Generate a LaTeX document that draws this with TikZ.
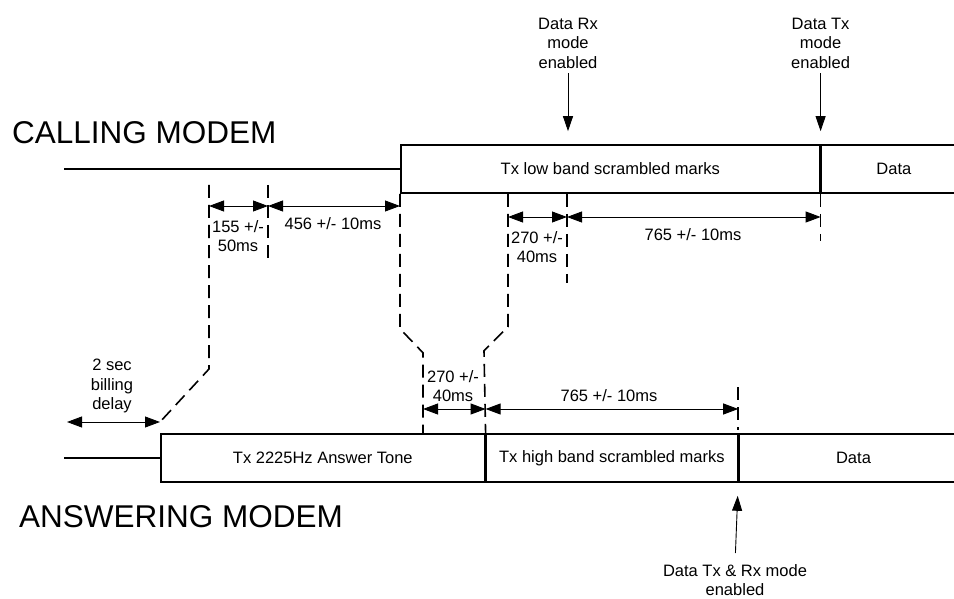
\documentclass[tikz,border=0pt]{standalone}
\usepackage{fontspec}
\setmainfont{Liberation Sans}
\usetikzlibrary{arrows.meta}

\begin{document}
\begin{tikzpicture}
 [x=1pt, y=-1pt,
  seg/.style={draw, line width=1.6pt, minimum height=48pt, inner sep=0pt, anchor=west, font=\fontsize{16.5}{19}\selectfont},
  lbl/.style={align=center, inner sep=0pt, font=\fontsize{16.5}{19.5}\selectfont},
  title/.style={anchor=west, inner sep=0pt, font=\fontsize{31.5}{36}\selectfont},
  sig/.style={line width=1.6pt},
  guide/.style={line width=1.6pt, dash pattern=on 13pt off 7pt},
  dim/.style={line width=0.9pt, {Triangle[length=15pt,width=11pt]}-{Triangle[length=15pt,width=11pt]}},
  pointer/.style={line width=0.9pt, -{Triangle[length=15pt,width=10pt]}}]

\useasboundingbox (0,0) rectangle (954,599);

% calling modem
\node[title] (calling) at (12,133) {CALLING MODEM};
\coordinate (cidle) at (64,169);
\node[seg, minimum width=419pt] (lowband) at (400,169) {Tx low band scrambled marks};
\node[seg, minimum width=145pt] (cdata) at (lowband.east) {Data};
\draw[sig] (cidle) -- (lowband.west);

% answering modem
\node[title] (answering) at (19,517) {ANSWERING MODEM};
\coordinate (aidle) at (64,458);
\node[seg, minimum width=324pt] (tone) at (160,458) {Tx 2225Hz Answer Tone};
\node[seg, minimum width=251pt] (highband) at (tone.east) {Tx high band scrambled marks};
\node[seg, minimum width=229pt] (adata) at (highband.east) {Data};
\draw[sig] (aidle) -- (tone.west);

% dimension points
\coordinate (a1) at (209,206);
\coordinate (a2) at (268,206);
\coordinate (a3) at (lowband.west |- a1);
\coordinate (b1) at (508,217);
\coordinate (b2) at (567,217);
\coordinate (b3) at (lowband.east |- b1);
\coordinate (c1) at (423,409);
\coordinate (c2) at (highband.west |- c1);
\coordinate (c3) at (highband.east |- c1);
\coordinate (d1) at (67,422);
\coordinate (d2) at (tone.west |- d1);

% dashed guides
\draw[guide] (a1) ++(0,-21) -- ++(0,184) -- (d2);
\draw[guide] (a2) ++(0,-21) -- ++(0,77);
\draw[guide] (lowband.south west) -- ++(0,135) -- ++(23,24) -- (c1 |- tone.north);
\draw[guide] (b1 |- lowband.south) -- ++(0,133) -- ++(-24,24) -- (highband.north west);
\draw[guide] (b2 |- lowband.south) -- ++(0,89);
\draw[guide] (lowband.south east) -- ++(0,47);
\draw[guide] (c3) ++(0,-22) -- ++(0,43);

% dimensions
\draw[dim] (a1) -- (a2);
\draw[dim] (a2) -- (a3);
\draw[dim] (b1) -- (b2);
\draw[dim] (b2) -- (b3);
\draw[dim] (c1) -- (c2);
\draw[dim] (c2) -- (c3);
\draw[dim] (d1) -- (d2);

\node[lbl] (l155) at (238,236) {155 +/-\\50ms};
\node[lbl] (l456) at (333,224) {456 +/- 10ms};
\node[lbl] (l270c) at (537,247) {270 +/-\\40ms};
\node[lbl] (l765c) at (693,235) {765 +/- 10ms};
\node[lbl] (lbill) at (112,386) {2 sec\\billing\\delay};
\node[lbl] (l270a) at (453,386) {270 +/-\\40ms};
\node[lbl] (l765a) at (609,396) {765 +/- 10ms};

% mode changes
\node[lbl] (rxmode) at (568,43) {Data Rx\\mode\\enabled};
\node[lbl] (txmode) at (lowband.east |- rxmode) {Data Tx\\mode\\enabled};
\node[lbl] (bothmode) at (735,580) {Data Tx \& Rx mode\\enabled};

\draw[pointer, shorten <=5pt, shorten >=13pt] (rxmode.south) -- (rxmode.south |- lowband.north);
\draw[pointer, shorten <=5pt, shorten >=13pt] (txmode.south) -- (lowband.north east);
\draw[pointer, shorten <=11pt, shorten >=13pt] (bothmode.north) -- (highband.south east);

\end{tikzpicture}
\end{document}
